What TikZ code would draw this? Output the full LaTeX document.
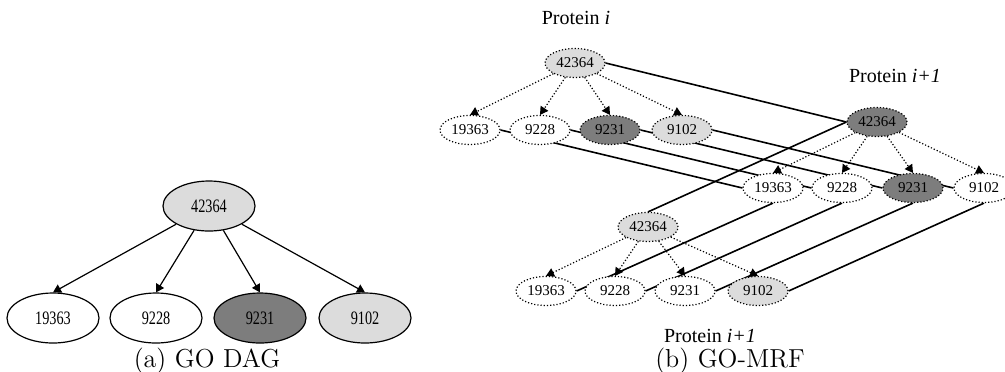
\documentclass[tikz,border=0pt]{standalone}
\usepackage{fontspec}
\newfontfamily\tms{Liberation Serif}
\newfontfamily\tmsnarrow[FakeStretch=0.75]{Liberation Serif}
\usetikzlibrary{shapes.geometric, arrows.meta, backgrounds}
\definecolor{lightgo}{RGB}{220,220,220}
\definecolor{darkgo}{RGB}{125,125,125}

\begin{document}
\begin{tikzpicture}[x=0.5pt, y=-0.5pt,
        > = {Triangle[width=4.5pt,length=4pt]},
  term/.style = {ellipse, draw, semithick, fill=white, inner sep=0pt,
                 minimum width=46pt, minimum height=25pt,
                 font=\tmsnarrow\fontsize{9.5}{10}\selectfont},
   mrf/.style = {ellipse, draw, densely dotted, semithick, fill=white, inner sep=0pt,
                 minimum width=30pt, minimum height=14.5pt,
                 font=\tms\fontsize{7.5}{8}\selectfont},
lightterm/.style = {fill=lightgo},
 darkterm/.style = {fill=darkgo},
   isa/.style = {semithick, ->},
  isad/.style = {semithick, densely dotted, ->},
  link/.style = {thick},
plabel/.style = {inner sep=0pt, anchor=base, font=\tms\fontsize{10}{11}\selectfont},
subcap/.style = {inner sep=0pt, anchor=base, font=\fontsize{13}{14}\selectfont}
                        ]
\useasboundingbox (0,0) rectangle (1005,371);
% (a) GO DAG
\node[term, lightterm] (r0) at (209,206) {42364};
\node[term]            (r1) at (53,318)  {19363};
\node[term]            (r2) at (156,318) {9228};
\node[term, darkterm]  (r3) at (260,318) {9231};
\node[term, lightterm] (r4) at (365,318) {9102};
\foreach \k in {1,...,4} {\draw[isa] (r0) -- (r\k.north);}
\node[subcap] (capa) at (207,367) {(a) GO DAG};
% (b) GO-MRF, protein i
\node[plabel] (lpa) at (576,24) {Protein \textit{i}};
\node[mrf, lightterm] (pa0) at (575,63)  {42364};
\node[mrf]            (pa1) at (470,130) {19363};
\node[mrf]            (pa2) at (540,130) {9228};
\node[mrf, darkterm]  (pa3) at (610,130) {9231};
\node[mrf, lightterm] (pa4) at (682,130) {9102};
% protein i+1 (upper)
\node[plabel] (lpb) at (895,82) {Protein \textit{i+1}};
\node[mrf, darkterm]  (pb0) at (877,122) {42364};
\node[mrf]            (pb1) at (773,188) {19363};
\node[mrf]            (pb2) at (842,188) {9228};
\node[mrf, darkterm]  (pb3) at (913,188) {9231};
\node[mrf]            (pb4) at (984,188) {9102};
% protein i+1 (lower)
\node[mrf, lightterm] (pc0) at (648,227) {42364};
\node[mrf]            (pc1) at (546,291) {19363};
\node[mrf]            (pc2) at (615,291) {9228};
\node[mrf]            (pc3) at (685,291) {9231};
\node[mrf, lightterm] (pc4) at (758,291) {9102};
\node[plabel] (lpc) at (710,342) {Protein \textit{i+1}};
\node[subcap] (capb) at (730,367) {(b) GO-MRF};
% is-a edges
\foreach \g in {pa,pb,pc}
  \foreach \k in {1,...,4} {\draw[isad] (\g0) -- (\g\k.north);}
% links between proteins, behind the terms
\begin{scope}[on background layer]
\draw[link] (pa0.east) -- (pb0.west);
\draw[link] (pc0.north) -- (pb0.west);
\foreach \k in {1,...,4} {
  \draw[link] (pa\k.east) -- (pb\k.west);
  \draw[link] (pc\k.east) -- (pb\k.south);
}
\end{scope}
\end{tikzpicture}
\end{document}
